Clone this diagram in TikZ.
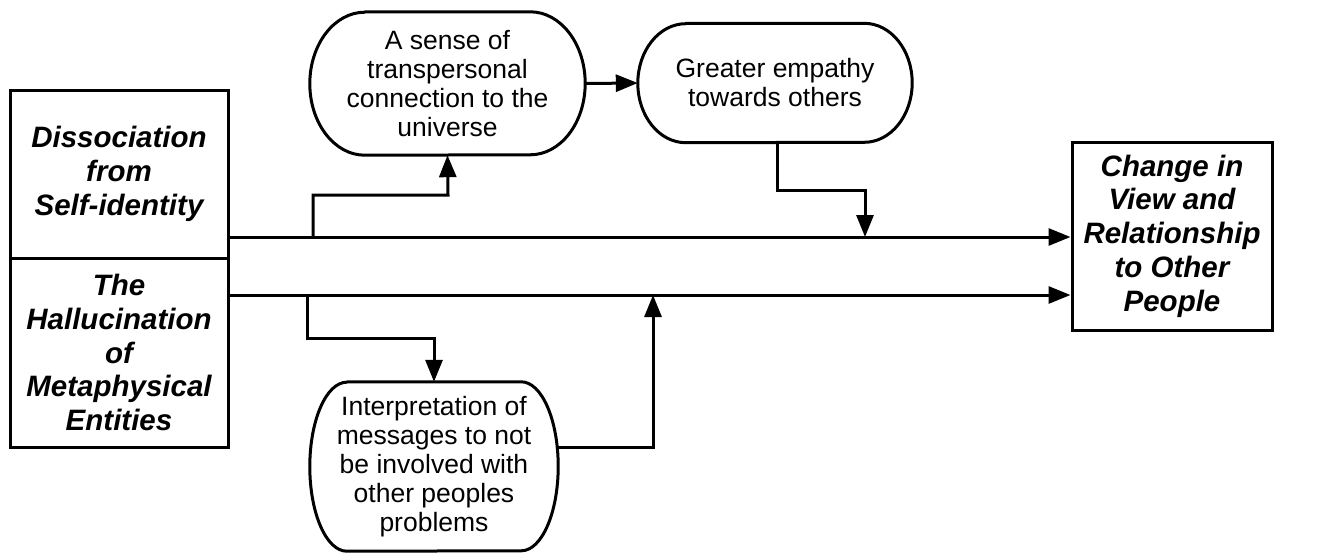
\documentclass[tikz,border=0pt]{standalone}
\usepackage{fontspec}
\setmainfont{Liberation Sans}
\usetikzlibrary{arrows.meta}

% outline of a pill with half-elliptical ends: node, x radius, y radius (pt)
\newcommand\pilloutline[3]{%
  \draw[outline] ([xshift=#2pt]#1.north west) -- ([xshift=-#2pt]#1.north east)
    arc[start angle=90, end angle=-90, x radius=#2pt, y radius=#3pt]
    -- ([xshift=#2pt]#1.south west)
    arc[start angle=270, end angle=90, x radius=#2pt, y radius=#3pt] -- cycle;}

\begin{document}
\begin{tikzpicture}[x=1pt, y=-1pt,
  outline/.style={line width=3pt, line join=round},
  factor/.style={draw, line width=3pt, inner sep=0pt, align=center,
    font=\fontsize{29.5}{33.8}\selectfont\bfseries\itshape},
  pilltext/.style={inner sep=0pt, align=center,
    font=\fontsize{26.5}{29}\selectfont},
  link/.style={line width=3pt, -{Triangle[length=22pt, width=17pt]}}]
\useasboundingbox (0,0) rectangle (1325,554);

% factor boxes
\node[factor, minimum width=218pt, minimum height=168pt] (d1) at (119,174)
  {Dissociation\\from\\Self-identity};
\node[factor, minimum width=218pt, minimum height=189pt] (d2) at (119,352.5)
  {The\\Hallucination\\of\\Metaphysical\\Entities};
\node[factor, minimum width=200pt, minimum height=188pt] (out) at (1172,236)
  {Change in\\View and\\Relationship\\to Other\\People};

% mediating themes
\node[pilltext, minimum width=275pt, minimum height=143pt] (p1) at (447.5,83.5)
  {A sense of\\transpersonal\\connection to the\\universe};
\pilloutline{p1}{55}{71.5}
\node[pilltext, minimum width=274pt, minimum height=119pt] (p2) at (775,83)
  {Greater empathy\\towards others};
\pilloutline{p2}{48}{59.5}
\node[pilltext, minimum width=248pt, minimum height=169pt] (p3) at (434,466.5)
  {Interpretation of\\messages to not\\be involved with\\other peoples\\problems};
\pilloutline{p3}{37}{84.5}

% routing points
\coordinate (l1) at (0,237);
\coordinate (l2) at (0,295);
\coordinate (b1) at (313,237);
\coordinate (k1) at (448,195);
\coordinate (b2) at (777,142);
\coordinate (k2) at (865,190);
\coordinate (m2) at (865,237);
\coordinate (b3) at (307,295);
\coordinate (k3) at (434,338);
\coordinate (s3) at (557,447);
\coordinate (k4) at (653,447);
\coordinate (m4) at (653,295);

% main paths
\draw[link] (d1.east |- l1) -- (out.west |- l1);
\draw[link] (d2.east |- l2) -- (out.west |- l2);

% upper branch
\draw[link] (b1) |- (k1) -- (p1.south);
\draw[link] (p1.east) -- (p2.west);
\draw[link] (b2) |- (k2) -- (m2);

% lower branch
\draw[link] (b3) |- (k3) -- (p3.north);
\draw[link] (s3) -- (k4) -- (m4);
\end{tikzpicture}
\end{document}
